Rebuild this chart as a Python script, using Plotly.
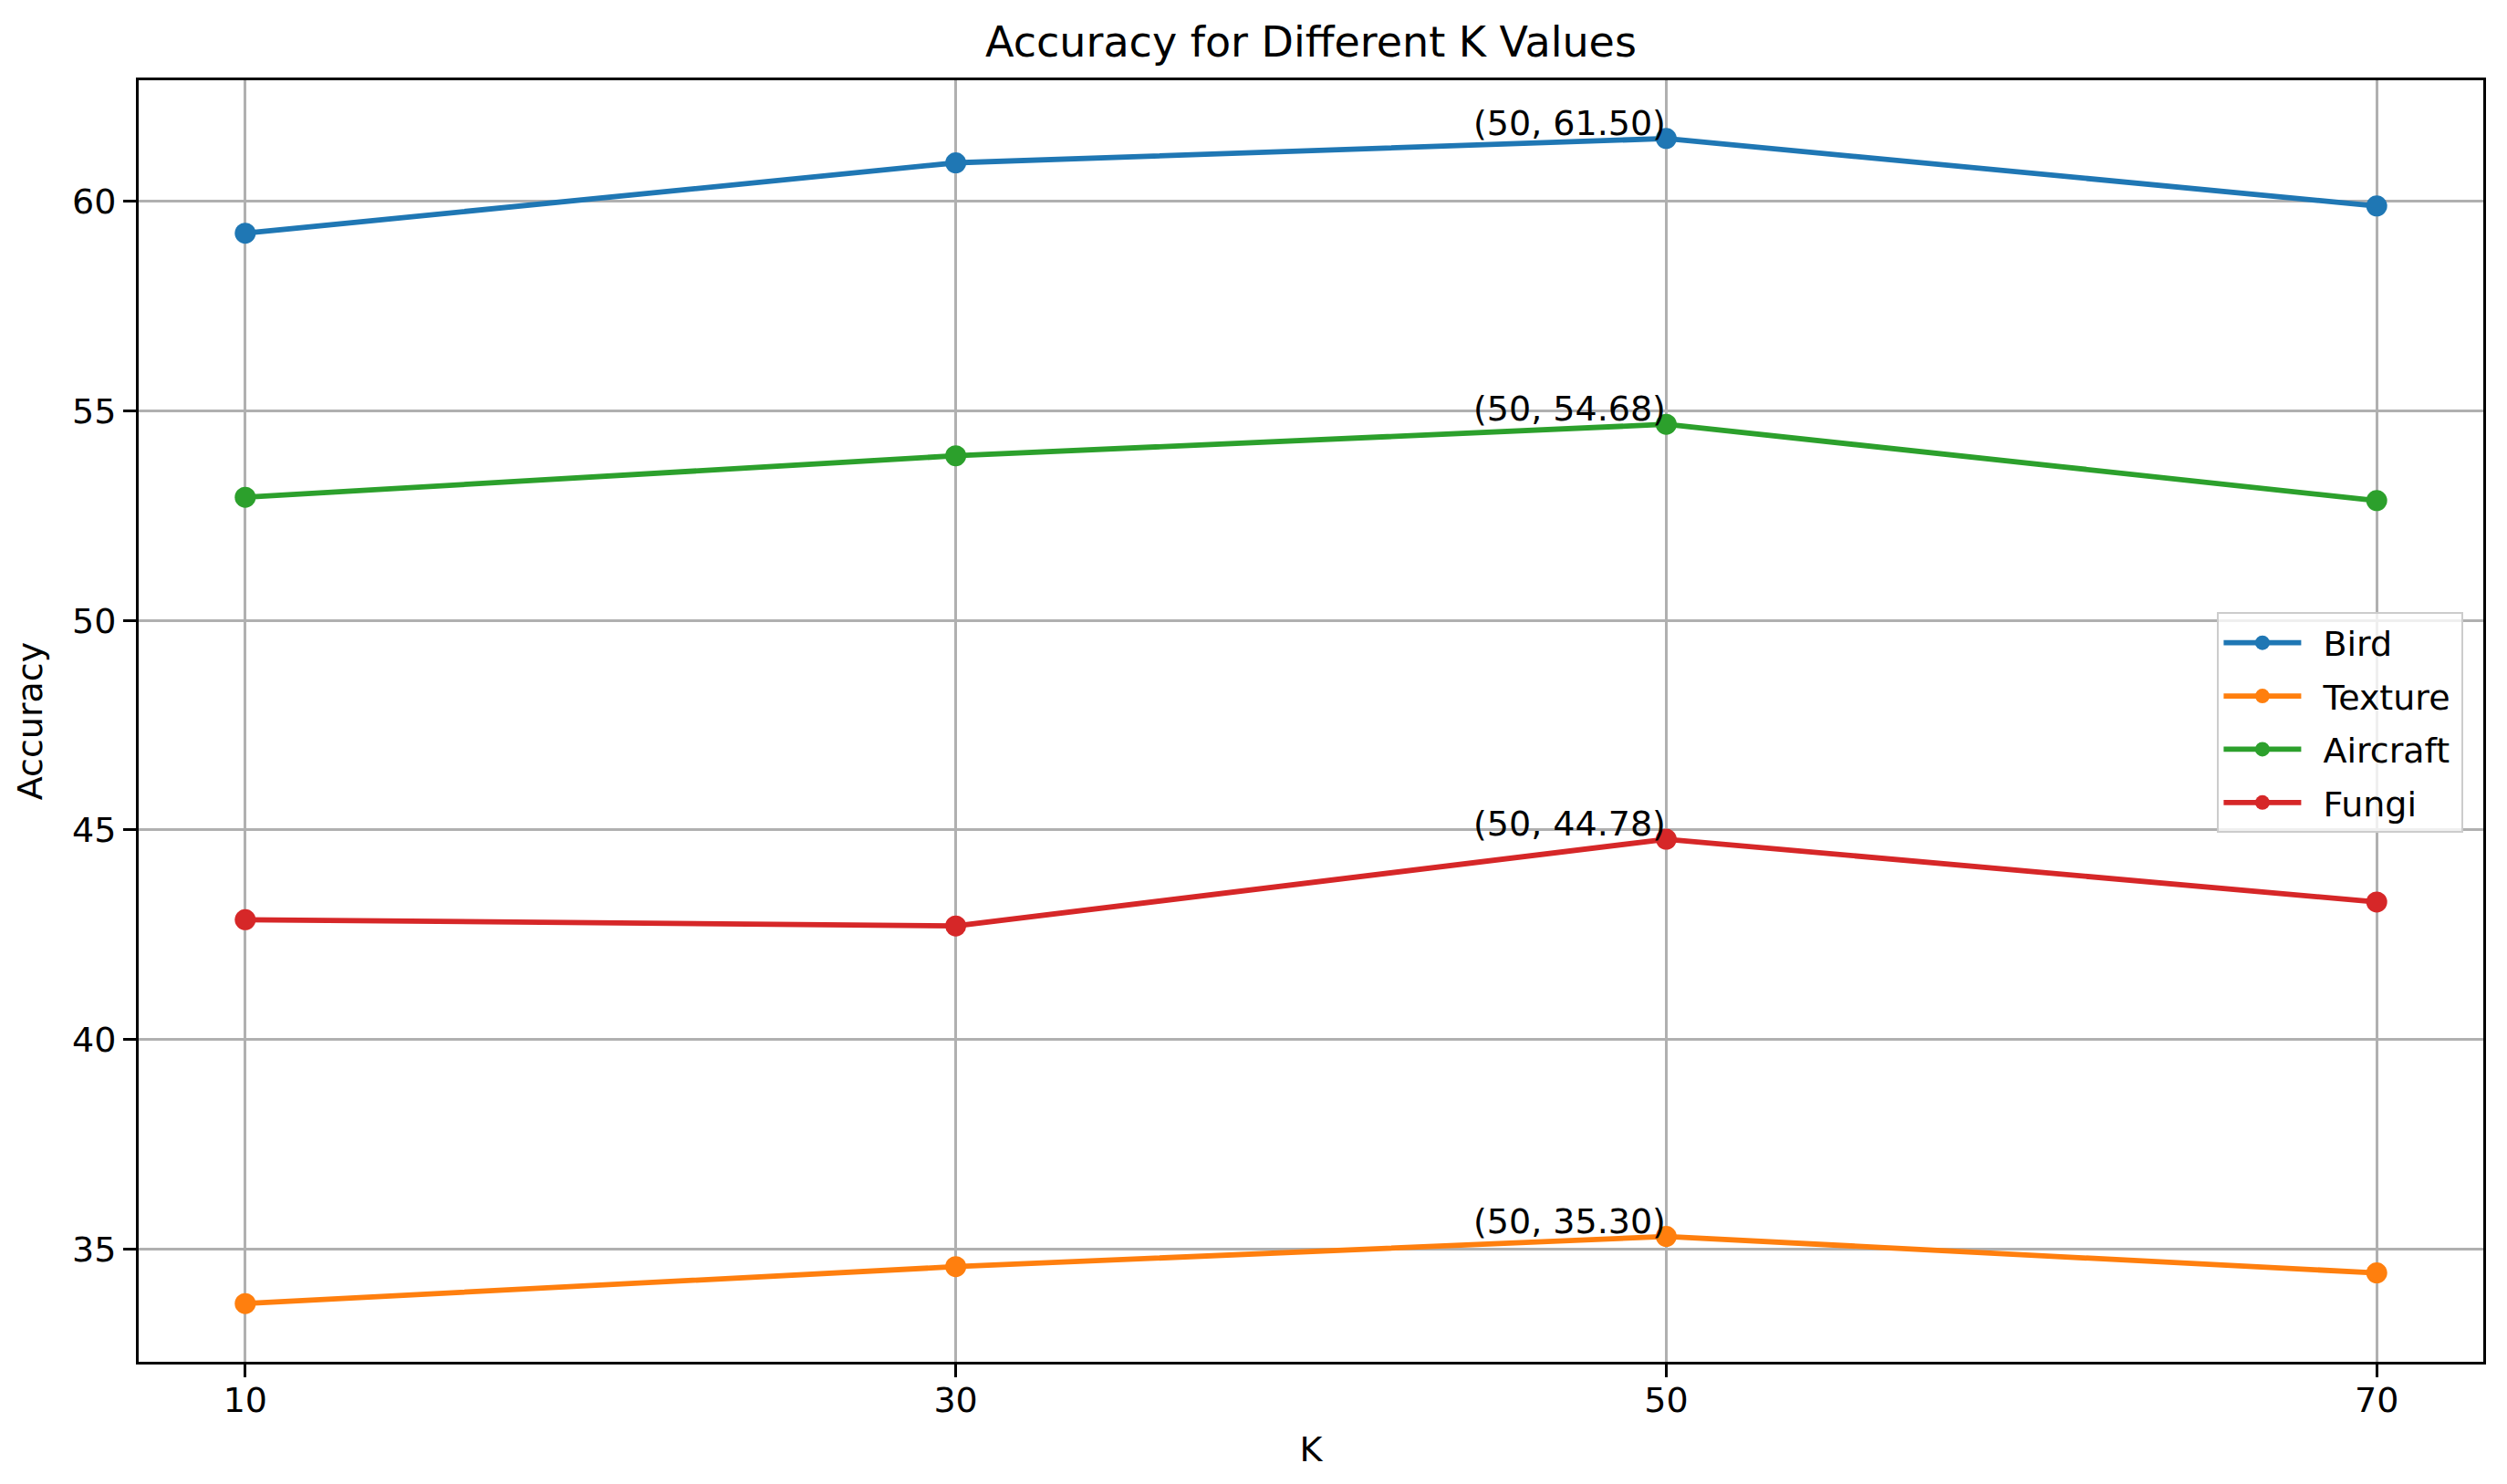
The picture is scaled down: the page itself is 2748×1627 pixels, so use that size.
import plotly.graph_objects as go

k_values = [10, 30, 50, 70]
bird = [59.24, 60.92, 61.50, 59.89]
texture = [33.70, 34.58, 35.30, 34.43]
aircraft = [52.94, 53.93, 54.68, 52.86]
fungi = [42.86, 42.71, 44.78, 43.28]

series_names = ["Bird", "Texture", "Aircraft", "Fungi"]
series_values = [bird, texture, aircraft, fungi]
colors = ["#1f77b4", "#ff7f0e", "#2ca02c", "#d62728"]
y_ticks = [35, 40, 45, 50, 55, 60]

FONT = "DejaVu Sans"
W, H = 2748, 1627
L, R, T, B = 152, 2722, 88, 1493

fig = go.Figure()
for name, vals, col in zip(series_names, series_values, colors):
    fig.add_trace(go.Scatter(
        x=k_values, y=vals, name="\u2002" + name + "\u2009", mode="lines+markers",
        legendgroup=name,
        line=dict(color=col, width=5.8),
        marker=dict(color=col, size=23),
    ))
    imax = max(range(len(vals)), key=lambda i: vals[i])
    fig.add_annotation(
        x=k_values[imax], y=vals[imax],
        text=f"({k_values[imax]}, {vals[imax]:.2f})",
        showarrow=False, xanchor="right", yanchor="bottom",
        xshift=2, yshift=-7,
        font=dict(family=FONT, size=38, color="black"),
    )

ymin = min(min(v) for v in series_values)
ymax = max(max(v) for v in series_values)
pad = 0.05 * (ymax - ymin)

axis_common = dict(
    showgrid=True, gridcolor="#b0b0b0", gridwidth=3,
    showline=True, linecolor="black", linewidth=3, mirror=True,
    ticks="outside", ticklen=14, tickwidth=3, tickcolor="black",
    tickfont=dict(family=FONT, size=38, color="black"),
    zeroline=False,
)

fig.update_layout(
    width=W, height=H,
    plot_bgcolor="white", paper_bgcolor="white",
    margin=dict(l=L, r=W - R, t=T, b=H - B),
    title=dict(text="Accuracy for Different K Values",
               x=(L + R) / 2 / W, xanchor="center",
               y=1 - 46 / H, yanchor="middle",
               font=dict(family=FONT, size=46, color="black")),
    xaxis=dict(axis_common, range=[7, 73], tickvals=k_values, ticklabelstandoff=-8,
               title=dict(text="K", font=dict(family=FONT, size=38, color="black"), standoff=20)),
    yaxis=dict(axis_common, range=[ymin - pad, ymax + pad], tickvals=y_ticks,
               title=dict(text="Accuracy", font=dict(family=FONT, size=38, color="black"), standoff=21)),
    legend=dict(x=0.9916, y=0.4986, xanchor="right", yanchor="middle",
                bgcolor="rgba(255,255,255,0.8)", bordercolor="#cccccc", borderwidth=2,
                font=dict(family=FONT, size=38, color="black"), itemwidth=85,
                traceorder="grouped", tracegroupgap=6),
    showlegend=True,
)

fig.write_html("out.html", config={"displayModeBar": False},
               post_script="document.body.style.margin='0';document.body.style.overflow='hidden';")
